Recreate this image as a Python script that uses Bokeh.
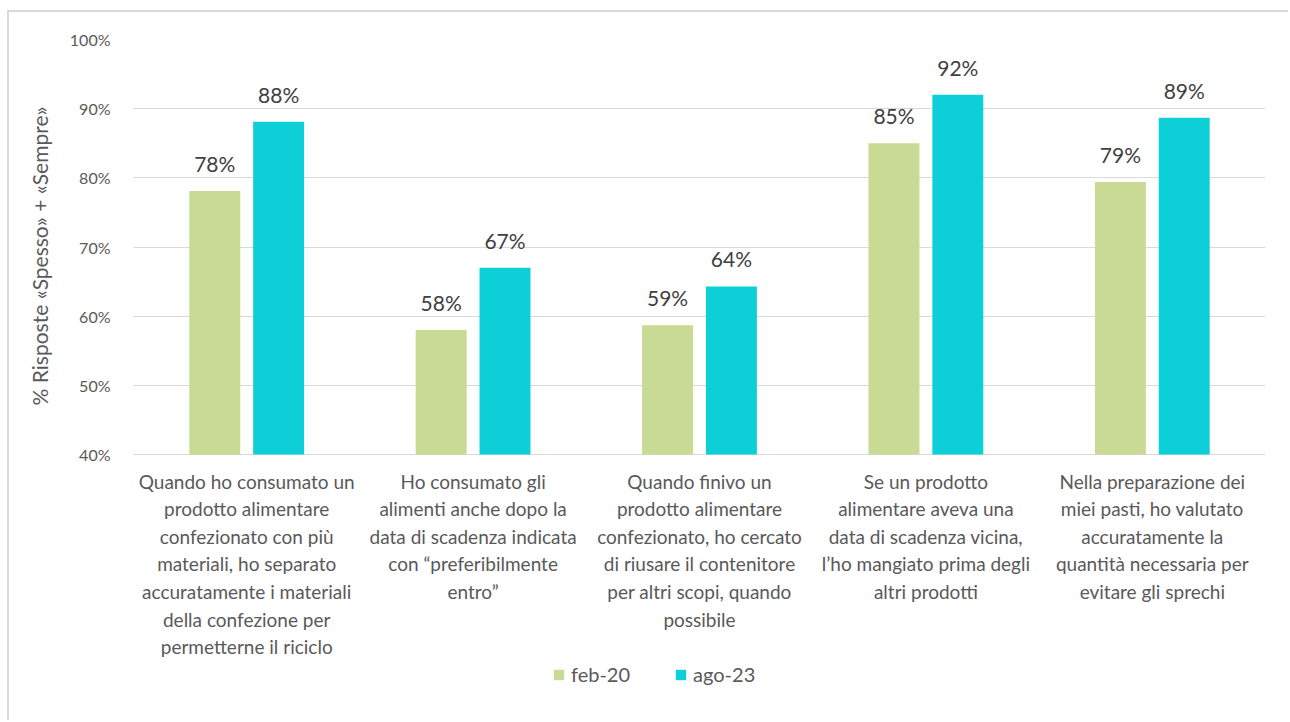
from bokeh.plotting import figure
from bokeh.models import ColumnDataSource, Range1d, FixedTicker, Legend, LegendItem, LabelSet, NumeralTickFormatter, Title
from bokeh.core.properties import value
from bokeh.embed import file_html
from bokeh.resources import INLINE

categories = [
    "Quando ho consumato un\nprodotto alimentare\nconfezionato con più\nmateriali, ho separato\naccuratamente i materiali\ndella confezione per\npermetterne il riciclo",
    "Ho consumato gli\nalimenti anche dopo la\ndata di scadenza indicata\ncon “preferibilmente\nentro”",
    "Quando finivo un\nprodotto alimentare\nconfezionato, ho cercato\ndi riusare il contenitore\nper altri scopi, quando\npossibile",
    "Se un prodotto\nalimentare aveva una\ndata di scadenza vicina,\nl’ho mangiato prima degli\naltri prodotti",
    "Nella preparazione dei\nmiei pasti, ho valutato\naccuratamente la\nquantità necessaria per\nevitare gli sprechi",
]
series_names = ["feb-20", "ago-23"]
feb20 = [0.781, 0.580, 0.587, 0.850, 0.794]
ago23 = [0.881, 0.670, 0.643, 0.920, 0.887]
y_ticks = [0.4, 0.5, 0.6, 0.7, 0.8, 0.9, 1.0]
y_label = "% Risposte «Spesso» + «Sempre»"
y_base = 0.4
y_top = 1.0

FONT = "Lato"
GREEN = "#c8da93"
CYAN = "#0ccfd8"
TXT = "#595959"

# frame: 100% at y=39px, 40% at y=454px, frame extends to bottom of window (722px)
px_per_unit = (454 - 39) / (y_top - y_base)
frame_h = 722 - 39
y_start = y_top - frame_h / px_per_unit

p = figure(width=1281, height=710, output_backend="svg", toolbar_location=None,
           x_range=Range1d(0, len(categories)), y_range=Range1d(y_start, y_top),
           x_axis_location=None,
           min_border_left=124, min_border_top=27, min_border_right=25, min_border_bottom=0)
p.styles = {"margin-left": "7px", "margin-top": "10px",
            "border-left": "2px solid #d9d9d9", "border-top": "2px solid #d9d9d9"}
p.outline_line_color = None
p.background_fill_color = "white"
p.border_fill_color = "white"

n = len(categories)
off = 0.141
bw = 0.225
xc = [i + 0.5 for i in range(n)]
x1 = [x - off for x in xc]
x2 = [x + off for x in xc]
lab1 = [f"{round(v*100):.0f}%" for v in feb20]
lab2 = [f"{round(v*100):.0f}%" for v in ago23]
s1 = ColumnDataSource(dict(x=x1, top=feb20, lab=lab1))
s2 = ColumnDataSource(dict(x=x2, top=ago23, lab=lab2))
r1 = p.vbar(x="x", top="top", bottom=y_base, width=bw, source=s1, fill_color=GREEN, line_color=None)
r2 = p.vbar(x="x", top="top", bottom=y_base, width=bw, source=s2, fill_color=CYAN, line_color=None)

for s in (s1, s2):
    ls = LabelSet(x="x", y="top", text="lab", source=s, text_align="center", text_baseline="bottom",
                  y_offset=15, text_font=value(FONT), text_font_size=value("21px"),
                  text_color=value("#404040"))
    p.add_layout(ls)

# category labels below the baseline
cs = ColumnDataSource(dict(x=xc, y=[y_base] * n, t=categories))
p.text(x="x", y="y", text="t", source=cs, text_align="center", text_baseline="top",
       y_offset=15, text_font=value(FONT), text_font_size="19px", text_color=TXT,
       text_line_height=1.2)

p.xgrid.grid_line_color = None

p.yaxis.ticker = FixedTicker(ticks=y_ticks)
p.yaxis.formatter = NumeralTickFormatter(format="0%")
p.yaxis.major_label_text_font = FONT
p.yaxis.major_label_text_font_size = "16px"
p.yaxis.major_label_text_color = TXT
p.yaxis.major_tick_line_color = None
p.yaxis.minor_tick_line_color = None
p.yaxis.axis_line_color = None
p.yaxis.major_label_standoff = 17
p.ygrid.grid_line_color = "#d9d9d9"
p.ygrid.grid_line_width = 1

# y axis title placed alongside the 40%-100% span
ytitle = Title(text=y_label, align="right", offset=67, standoff=30,
               text_font=FONT, text_font_size="21px", text_font_style="normal",
               text_color=TXT)
p.add_layout(ytitle, "left")

legend = Legend(items=[LegendItem(label=series_names[0], renderers=[r1]),
                       LegendItem(label=series_names[1], renderers=[r2])],
                orientation="horizontal", location=(419, 36),
                label_text_font=FONT, label_text_font_size="20px", label_text_color=TXT,
                glyph_width=13, glyph_height=13, spacing=44, label_standoff=6,
                padding=5, margin=0,
                border_line_color=None, background_fill_alpha=0)
p.add_layout(legend, "center")

open("out.html", "w").write(file_html(p, INLINE))
